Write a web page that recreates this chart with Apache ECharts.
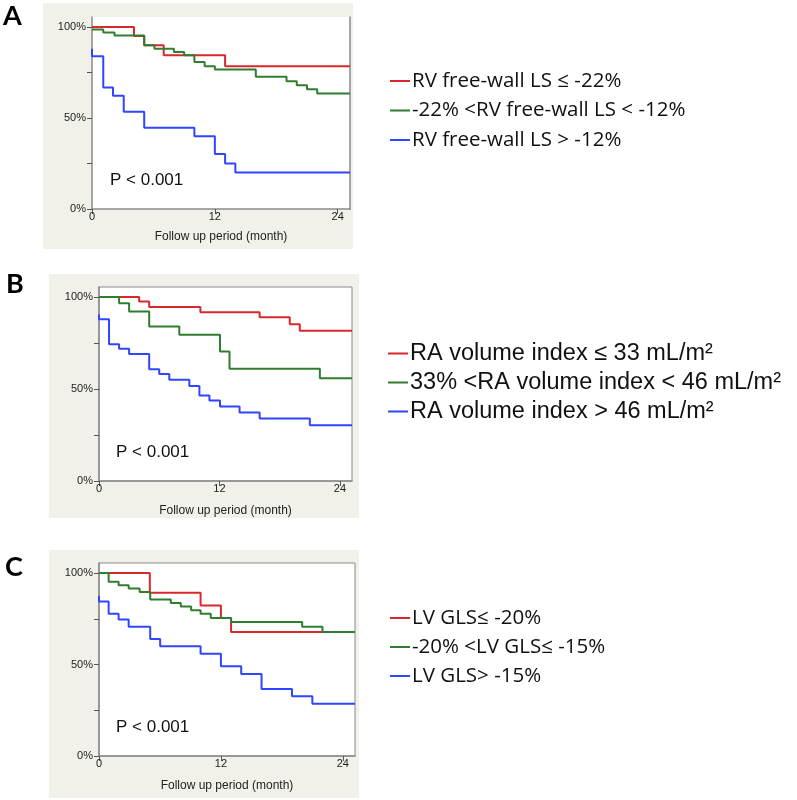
<!DOCTYPE html>
<html lang="en">

<head>
	<meta charset="UTF-8">
	<script src="https://cdn.jsdelivr.net/npm/echarts@6.0.0/dist/echarts.min.js"></script>
	<title>Kaplan-Meier curves</title>
	<style>
		body { margin: 0; background: #fff; }
	</style>
</head>

<body>
	<div id="main" style="width: 797px;height:800px;"></div>

	<script>
		// months / survival (%)
		var rvRed = [[0, 100], [4.1, 95], [5.1, 90], [7, 84.5], [13, 78.5], [25.2, 78.5]];
		var rvGreen = [[0, 98.7], [1.1, 97], [2.2, 95.4], [5.1, 90], [6.1, 88], [8, 86.3], [9, 84.5], [10, 80.8], [11, 78.4], [12, 76.6], [16, 72.6], [19, 70.2], [20, 68], [21, 65.8], [22, 63.5], [25.2, 63.5]];
		var rvBlue = [[0, 88], [0, 84], [1.1, 66.7], [2.05, 62.2], [3.1, 53.4], [5.1, 44.6], [10, 40], [12, 30.2], [13, 25], [14, 20.1], [25.2, 20.1]];

		var raRed = [[0, 100], [4, 97.6], [5, 94.6], [10.1, 91.8], [16, 89], [19, 85.3], [20, 81.7], [25.2, 81.7]];
		var raGreen = [[0, 100], [2, 96.7], [3, 92.2], [5, 84], [8, 79.5], [12.05, 70.4], [13, 61], [22, 55.9], [25.2, 55.9]];
		var raBlue = [[0, 90.5], [0, 88], [1, 74.4], [2, 71.9], [3, 69.1], [5, 60.8], [6, 58.2], [7, 55], [9, 51.7], [10, 46.5], [11, 43.8], [12.05, 40.5], [14, 37.2], [16, 34], [21, 30.3], [25.2, 30.3]];

		var lvRed = [[0, 100], [5, 89.2], [10, 82.2], [12, 75.5], [13, 67.8], [25.2, 67.8]];
		var lvGreen = [[0, 100], [0.95, 95.2], [1.93, 93.4], [2.92, 91.6], [4, 89.6], [5.04, 85.5], [7.07, 83.7], [8.05, 81.7], [9.07, 79.7], [10, 77.7], [11, 75.5], [13, 73.3], [20, 70.6], [22, 67.8], [25.2, 67.8]];
		var lvBlue = [[0, 87.5], [0, 84.5], [0.95, 77.7], [1.93, 74.6], [2.92, 70.6], [5.04, 64], [6.02, 60], [10, 55.9], [12, 49], [14, 44.8], [16, 36.6], [19, 32.6], [21, 28.5], [25.2, 28.5]];

		var rvNames = ['RV free-wall LS ≤ -22%', '-22% <RV free-wall LS < -12%', 'RV free-wall LS > -12%'];
		var raNames = ['RA volume index ≤ 33 mL/m²', '33% <RA volume index < 46 mL/m²', 'RA volume index > 46 mL/m²'];
		var lvNames = ['LV GLS≤ -20%', '-20% <LV GLS≤ -15%', 'LV GLS> -15%'];

		var xTicks = [0, 12, 24];
		var yTicks = [0, 25, 50, 75, 100];
		var yLabels = [0, 50, 100];
		var xMax = 25.2;
		var yMax = 105.5;

		var colors = ['#d8282a', '#2f7d2f', '#2f45ff'];
		var axisColor = '#8a8a8a';
		var sans = 'Liberation Sans';

		var chart = echarts.init(document.getElementById('main'));

		var grids = [
			{ left: 92, right: 447, top: 17, bottom: 591 },
			{ left: 99, right: 445, top: 287, bottom: 319 },
			{ left: 99, right: 442, top: 563, bottom: 44 }
		];
		var nameGaps = [22, 24, 24];
		var panelData = [[rvRed, rvGreen, rvBlue], [raRed, raGreen, raBlue], [lvRed, lvGreen, lvBlue]];
		var panelNames = [rvNames, raNames, lvNames];

		var xAxes = [], yAxes = [], series = [], legends = [];

		grids.forEach(function (g, i) {
			g.show = true;
			g.backgroundColor = '#fff';
			g.borderColor = axisColor;
			g.borderWidth = i === 0 ? 0 : 1;

			xAxes.push({
				type: 'value', gridIndex: i, min: 0, max: xMax,
				name: 'Follow up period (month)', nameLocation: 'middle', nameGap: nameGaps[i],
				nameTextStyle: { fontFamily: sans, fontSize: 12, color: '#222' },
				axisLine: { show: true, lineStyle: { color: axisColor, width: 1.5 } },
				axisTick: { show: true, customValues: xTicks, length: 5, lineStyle: { color: '#555' } },
				axisLabel: { customValues: xTicks, margin: 2, fontFamily: sans, fontSize: 11, color: '#222' },
				splitLine: { show: false }
			});
			yAxes.push({
				type: 'value', gridIndex: i, min: 0, max: yMax,
				axisLine: { show: true, lineStyle: { color: axisColor, width: 1.5 } },
				axisTick: { show: true, customValues: yTicks, length: 5, lineStyle: { color: '#555' } },
				axisLabel: { customValues: yLabels, formatter: '{value}%', margin: 6, fontFamily: sans, fontSize: 11, color: '#222' },
				splitLine: { show: false }
			});
			if (i === 0) {
				// panel A has a right frame line but no top one
				yAxes.push({
					type: 'value', gridIndex: 0, min: 0, max: yMax, position: 'right',
					axisLine: { show: true, lineStyle: { color: axisColor, width: 1.5 } },
					axisTick: { show: false }, axisLabel: { show: false }, splitLine: { show: false }
				});
			}

			panelData[i].forEach(function (d, k) {
				series.push({
					type: 'line', name: panelNames[i][k], xAxisIndex: i,
					yAxisIndex: i === 0 ? 0 : i + 1,
					step: 'end', data: d, showSymbol: false, silent: true,
					z: k === 1 ? 4 : 3,
					itemStyle: { color: colors[k] },
					lineStyle: { color: colors[k], width: 2 }
				});
			});
		});

		legends = [
			{ left: 390, top: 70.5, names: rvNames, font: 'Open Sans', size: 20.5, gap: 8.5 },
			{ left: 388, top: 341.5, names: raNames, font: sans, size: 23.5, gap: 5 },
			{ left: 390, top: 607.5, names: lvNames, font: 'Open Sans', size: 20.5, gap: 8 }
		].map(function (l) {
			return {
				left: l.left, top: l.top, orient: 'vertical', padding: 0,
				itemGap: l.gap, itemWidth: 20, itemHeight: 2, icon: 'rect',
				selectedMode: false, data: l.names,
				textStyle: { fontFamily: l.font, fontSize: l.size, lineHeight: l.size, color: '#111', padding: [0, 0, 0, -3] }
			};
		});

		var bgs = [[43, 3, 310, 246], [49, 274, 310, 244], [49, 550, 310, 248]];
		var letters = [['A', 3, 3], ['B', 6, 271], ['C', 5, 554]];
		var pTexts = [[110, 180], [116, 452], [116, 727.5]];
		var graphic = [];
		bgs.forEach(function (b) {
			graphic.push({ type: 'rect', z: -10, shape: { x: b[0], y: b[1], width: b[2], height: b[3] }, style: { fill: '#f1f1ea' } });
		});
		letters.forEach(function (l) {
			graphic.push({ type: 'text', x: l[1], y: l[2], style: { text: l[0], font: 'bold 27px Lato', fill: '#000' } });
		});
		pTexts.forEach(function (p) {
			graphic.push({ type: 'text', x: p[0], y: p[1], style: { text: 'P < 0.001', font: '17px "Liberation Sans"', fill: '#111', verticalAlign: 'middle' } });
		});

		chart.setOption({
			animation: false,
			backgroundColor: '#fff',
			grid: grids,
			xAxis: xAxes,
			yAxis: yAxes,
			legend: legends,
			graphic: graphic,
			series: series
		});
	</script>
</body>

</html>
